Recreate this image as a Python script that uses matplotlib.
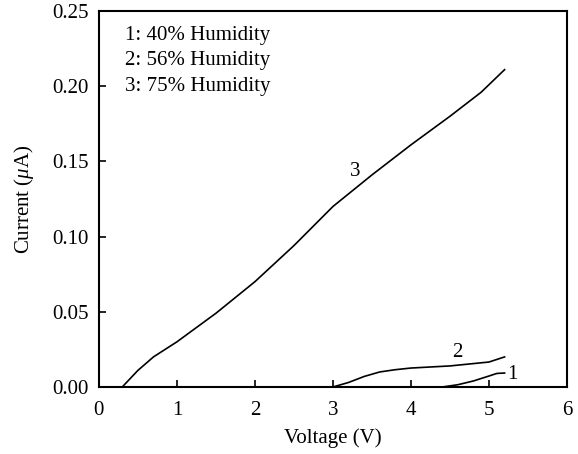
import numpy as np
import matplotlib.pyplot as plt

plt.rcParams['font.family'] = 'Liberation Serif'
plt.rcParams['mathtext.fontset'] = 'custom'
plt.rcParams['mathtext.it'] = 'Liberation Serif:italic'
plt.rcParams['mathtext.rm'] = 'Liberation Serif'

# curve 3: 75% humidity
v3 = [0.3, 0.5, 0.7, 1.0, 1.5, 2.0, 2.5, 3.0, 3.5, 4.0, 4.5, 4.9, 5.2]
i3 = [0.0, 0.011, 0.020, 0.030, 0.049, 0.070, 0.094, 0.120, 0.141, 0.161, 0.180, 0.196, 0.211]
# curve 2: 56% humidity
v2 = [3.0, 3.2, 3.4, 3.6, 3.8, 4.0, 4.5, 5.0, 5.2]
i2 = [0.0, 0.003, 0.007, 0.010, 0.0115, 0.0126, 0.014, 0.0166, 0.020]
# curve 1: 40% humidity
v1 = [4.4, 4.6, 4.8, 5.0, 5.1, 5.2]
i1 = [0.0, 0.0015, 0.004, 0.0073, 0.009, 0.0093]

labels = ['1: 40% Humidity', '2: 56% Humidity', '3: 75% Humidity']

fig = plt.figure(figsize=(5.78, 4.54), dpi=100)
ax = fig.add_axes([0.171, 0.1476, 0.81, 0.8282])

for v, i in [(v1, i1), (v2, i2), (v3, i3)]:
    ax.plot(v, i, color='black', lw=1.2)

ax.text(3.28, 0.143, '3', fontsize=15, ha='center', va='center')
ax.text(4.6, 0.023, '2', fontsize=15, ha='center', va='center')
ax.text(5.3, 0.008, '1', fontsize=15, ha='center', va='center')

for lab, y in zip(labels, [0.234, 0.217, 0.200]):
    ax.text(0.33, y, lab, fontsize=15, ha='left', va='center')

ax.set_xlim(0, 6)
ax.set_ylim(0, 0.25)
ax.set_xticks(range(7))
ax.set_yticks([0, 0.05, 0.10, 0.15, 0.20, 0.25])
ax.set_yticklabels(['0.00', '0.05', '0.10', '0.15', '0.20', '0.25'])
ax.tick_params(direction='in', length=5, width=1.2, labelsize=15, top=False, right=False)
ax.tick_params(axis='x', pad=10)
ax.tick_params(axis='y', pad=7)
for s in ax.spines.values():
    s.set_linewidth(1.5)

ax.set_xlabel('Voltage (V)', fontsize=15, labelpad=6)
ax.set_ylabel(r'Current ($\mu$A)', fontsize=15, labelpad=12)

fig.savefig('out.png', dpi=100)
